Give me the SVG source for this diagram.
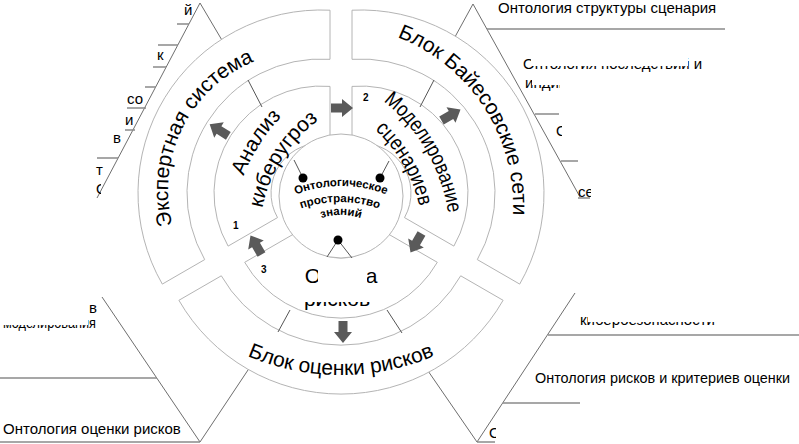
<svg xmlns="http://www.w3.org/2000/svg" width="799" height="444" viewBox="0 0 799 444">
<style>
.ring{fill:#fff;stroke:#b4b4b4;stroke-width:1}
.tri{fill:none;stroke:#6e6e6e;stroke-width:1}
.hl{fill:none;stroke:#8a8a8a;stroke-width:1.3}
.con{fill:none;stroke:#555;stroke-width:1}
.t{font-family:"Liberation Sans",Arial,sans-serif;fill:#000}
.big{font-size:21px}
.lab{font-size:15px}
.num{font-size:10px;font-weight:bold}
.ctr{font-size:11.5px;font-weight:bold}
.arr{fill:#5a5a5a}
</style>
<defs>
<path id="arrow" d="M-11,-4.5H0V-9L11,0L0,9V4.5H-11Z"/>
<path id="p-exp" d="M186,258.4 A139,139 0 0 1 288.9,52.2"/>
<path id="p-bay" d="M396.9,37 A181,181 0 0 1 512.8,215.5"/>
<path id="p-risk" d="M204.2,331.9 A238.5,238.5 0 0 0 477.8,331.9"/>
<path id="p-an1" d="M232.7,223.7 A176,176 0 0 1 320,86.6"/>
<path id="p-an2" d="M259,239 A149,149 0 0 1 345,104"/>
<path id="p-mo1" d="M362,86.6 A176,176 0 0 1 450,239"/>
<path id="p-mo2" d="M337,104 A149,149 0 0 1 422.4,252"/>
<path id="p-c1" d="M297,194 A125,125 0 0 1 385,194"/>
<path id="p-c2" d="M300,209 A118,118 0 0 1 380,209"/>
<path id="p-c3" d="M319,219 A62,62 0 0 1 363,219"/>
<clipPath id="k-tr1"><path d="M515,50H531V75H515Z M531,66H688V75H531Z M688,50H720V75H688Z"/></clipPath>
<clipPath id="k-tr2"><path d="M520,72H532V95H520Z M532,85H560V95H532Z"/></clipPath>
<clipPath id="k-tr3"><rect x="550" y="118" width="12" height="24"/></clipPath>
<clipPath id="k-tr4"><rect x="575" y="180" width="16" height="22"/></clipPath>
<clipPath id="k-bl1"><path d="M0,325H88V334H0Z M88,314H100V334H88Z"/></clipPath>
<clipPath id="k-br1"><path d="M575,310H588V332H575Z M588,322H720V332H588Z"/></clipPath>
<clipPath id="k-br2"><rect x="485" y="420" width="11" height="22"/></clipPath>
<clipPath id="k-tl1"><rect x="90" y="176" width="11" height="22"/></clipPath>
</defs>
<rect width="799" height="444" fill="#fff"/>

<g id="list-top-left">
<path class="tri" d="M97,198 L200,3 L226,47"/>
<path class="hl" d="M177,24H189M158,45H178M153,67H166M145,87H156M127,108H146M125,130H135M97,158H118"/>
<text class="t lab" x="184" y="15">й</text>
<text class="t lab" x="157" y="60">к</text>
<text class="t lab" x="127" y="104">со</text>
<text class="t lab" x="125" y="125">и</text>
<text class="t lab" x="113" y="143">в</text>
<text class="t lab" x="96" y="175">т</text>
<text class="t lab" x="96" y="194" clip-path="url(#k-tl1)">О</text>
</g>

<g id="list-top-right">
<path class="tri" d="M450,46 L473,4 L580,197"/>
<path class="hl" d="M487,29H725M535,114H559M561,161H578M578,198H590"/>
<text class="t lab" x="498" y="13">Онтология структуры сценария</text>
<text class="t lab" x="523" y="69" clip-path="url(#k-tr1)">Онтология последствий и</text>
<text class="t lab" x="525" y="88" clip-path="url(#k-tr2)">индикаторов</text>
<text class="t lab" x="556" y="136" clip-path="url(#k-tr3)">О</text>
<text class="t lab" x="578" y="197" clip-path="url(#k-tr4)">се</text>
</g>

<g id="list-bottom-left">
<path class="tri" d="M102,297 L200,442 L250,367"/>
<path class="hl" d="M0,378H157M0,442H200"/>
<text class="t lab" x="89" y="313">в</text>
<text class="t" x="3" y="328" font-size="14" textLength="93" lengthAdjust="spacingAndGlyphs" clip-path="url(#k-bl1)">моделирования</text>
<text class="t lab" x="3" y="434">Онтология оценки рисков</text>
</g>

<g id="list-bottom-right">
<path class="tri" d="M426,368 L477,442 L575,293"/>
<path class="hl" d="M548,335H799M503,403H580M477,442H495"/>
<text class="t lab" x="580" y="325" clip-path="url(#k-br1)">кибербезопасности</text>
<text class="t" x="535" y="383" font-size="14.4">Онтология рисков и критериев оценки</text>
<text class="t lab" x="489" y="438" clip-path="url(#k-br2)">О</text>
</g>

<g id="expert-system">
<path class="ring" d="M330,10.2 A183,183 0 0 0 162.3,284.1 L204.7,259.6 A134,134 0 0 1 330,59.3 Z"/>
<text class="t big"><textPath href="#p-exp" startOffset="50%" text-anchor="middle">Экспертная система</textPath></text>
</g>

<g id="bayes-networks">
<path class="ring" d="M352,10.2 A183,183 0 0 1 519.7,284.1 L477.3,259.6 A134,134 0 0 0 352,59.3 Z"/>
<text class="t big"><textPath href="#p-bay" startOffset="50%" text-anchor="middle">Блок Байесовские сети</textPath></text>
</g>

<g id="risk-block">
<path class="ring" d="M178.9,300.3 A187,187 0 0 0 503.1,300.3 L460.7,275.8 A138,138 0 0 1 221.3,275.8 Z"/>
<text class="t big"><textPath href="#p-risk" startOffset="50%" text-anchor="middle">Блок оценки рисков</textPath></text>
</g>

<g id="threat-analysis">
<path class="ring" d="M330,86.4 A107,107 0 0 0 228.1,246.1 L277.5,217.6 A50,50 0 0 1 330,143.8 Z"/>
<text class="t big"><textPath href="#p-an1" startOffset="50%" text-anchor="middle">Анализ</textPath></text>
<text class="t big"><textPath href="#p-an2" startOffset="50%" text-anchor="middle">киберугроз</textPath></text>
<text class="t num" x="233" y="229">1</text>
</g>

<g id="scenario-modeling">
<path class="ring" d="M352,86.4 A107,107 0 0 1 453.9,246.1 L404.5,217.6 A50,50 0 0 0 352,143.8 Z"/>
<text class="t big"><textPath href="#p-mo1" startOffset="50%" text-anchor="middle" textLength="132" lengthAdjust="spacingAndGlyphs">Моделирование</textPath></text>
<text class="t big"><textPath href="#p-mo2" startOffset="50%" text-anchor="middle" textLength="90" lengthAdjust="spacingAndGlyphs">сценариев</textPath></text>
<text class="t num" x="363" y="101">2</text>
</g>

<g id="risk-assessment">
<path class="ring" d="M244.7,262.3 A111,111 0 0 0 437.3,262.3 L385.3,232.3 A51,51 0 0 1 296.7,232.3 Z"/>
<text class="t big" x="341" y="283" text-anchor="middle">Оценка</text>
<text class="t big" x="337" y="306" text-anchor="middle">рисков</text>
<path d="M318,259H367V288H381V302H296V288H318Z" fill="#fff"/>
<text class="t num" x="261" y="273">3</text>
</g>

<g id="ontology-space">
<circle class="ring" cx="341" cy="196" r="62"/>
<text class="t ctr"><textPath href="#p-c1" startOffset="50%" text-anchor="middle">Онтологическое</textPath></text>
<text class="t ctr"><textPath href="#p-c2" startOffset="50%" text-anchor="middle">пространство</textPath></text>
<text class="t ctr"><textPath href="#p-c3" startOffset="50%" text-anchor="middle">знаний</textPath></text>
</g>

<g id="connectors">
<path class="con" d="M248,80L262,107M434,80L420,107M290,310L278,332M387,310L402,333"/>
<path class="con" d="M303,178L294,160M380,178L389,161M338,240L327,257M338,240L352,258"/>
<circle cx="303" cy="178" r="4.5"/>
<circle cx="380" cy="178" r="4.5"/>
<circle cx="338" cy="240" r="4.5"/>
<use href="#arrow" class="arr" transform="translate(342,108)"/>
<use href="#arrow" class="arr" transform="translate(416,243) rotate(120)"/>
<use href="#arrow" class="arr" transform="translate(256,245) rotate(240)"/>
<use href="#arrow" class="arr" transform="translate(219,130) rotate(212)"/>
<use href="#arrow" class="arr" transform="translate(451,115) rotate(-30)"/>
<use href="#arrow" class="arr" transform="translate(343,332) rotate(90)"/>
</g>
</svg>
